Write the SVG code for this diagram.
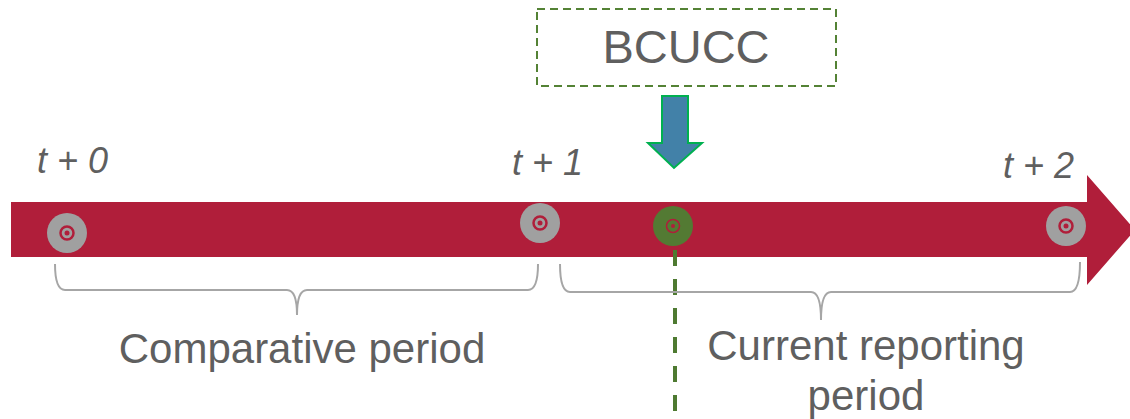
<svg xmlns="http://www.w3.org/2000/svg" width="1130" height="419" viewBox="0 0 1130 419">
<style>
text{font-family:"Liberation Sans",Arial,sans-serif;fill:#5F5F5F}
.t{font-style:italic;font-size:36px}
.lbl{font-size:42px}
.marker{fill:#A0A0A0}
.ring{fill:none;stroke:#B01E3A;stroke-width:2.5}
.dot{fill:#B01E3A}
.brace{fill:none;stroke:#A6A6A6;stroke-width:2}
</style>
<rect width="1130" height="419" fill="#FFFFFF"/>
<g id="timeline">
<polygon points="11,202 1087,202 1087,175 1135,230 1087,285 1087,257 11,257" fill="#B01E3A"/>
</g>
<g id="t0">
<circle class="marker" cx="67" cy="233" r="20"/>
<circle class="ring" cx="67" cy="233" r="6.5"/>
<circle class="dot" cx="67" cy="233" r="2.5"/>
<text class="t" x="37" y="173">t + 0</text>
</g>
<g id="t1">
<circle class="marker" cx="540" cy="223" r="20"/>
<circle class="ring" cx="540" cy="223" r="6.5"/>
<circle class="dot" cx="540" cy="223" r="2.5"/>
<text class="t" x="512" y="175">t + 1</text>
</g>
<g id="t2">
<circle class="marker" cx="1066" cy="226" r="20"/>
<circle class="ring" cx="1066" cy="226" r="6.5"/>
<circle class="dot" cx="1066" cy="226" r="2.5"/>
<text class="t" x="1003" y="178">t + 2</text>
</g>
<g id="connectors">
<line x1="675" y1="244" x2="675" y2="419" stroke="#4E7A31" stroke-width="4" stroke-dasharray="16,13" stroke-dashoffset="-6"/>
<polygon points="662,96 688,96 688,143 702,143 674,168 648,143 662,143" fill="#4281A8" stroke="#00B050" stroke-width="2"/>
</g>
<g id="bcucc_point">
<circle cx="673" cy="226" r="20" fill="#537A33"/>
<circle cx="673" cy="226" r="6.5" fill="none" stroke="#B01E3A" stroke-width="1.5"/>
<circle class="dot" cx="673" cy="226" r="2"/>
</g>
<g id="bcucc">
<rect x="537" y="9" width="299" height="77" fill="none" stroke="#548235" stroke-width="2" stroke-dasharray="8,5"/>
<text x="686" y="63" text-anchor="middle" style="font-size:47px">BCUCC</text>
</g>
<g id="comparative">
<path class="brace" d="M55,264 Q55,290 65,290 L287,290 Q297,290 297,315 Q297,290 307,290 L528,290 Q538,290 538,264"/>
<text class="lbl" x="302" y="363" text-anchor="middle">Comparative period</text>
</g>
<g id="current">
<path class="brace" d="M560,264 Q560,292 570,292 L811,292 Q821,292 821,320 Q821,292 831,292 L1070,292 Q1080,292 1080,262"/>
<text class="lbl" x="866" y="360" text-anchor="middle">Current reporting</text>
<text class="lbl" x="866" y="410" text-anchor="middle">period</text>
</g>
</svg>
